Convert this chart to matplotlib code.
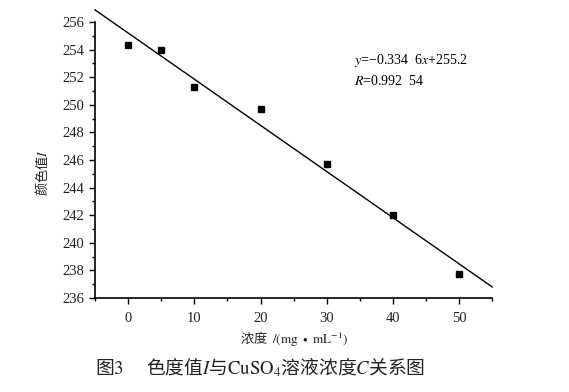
import matplotlib
matplotlib.use('Agg')
import matplotlib.pyplot as plt
from matplotlib.ticker import MultipleLocator
import numpy as np

##############################
# DATA
##############################
conc = [0, 5, 10, 20, 30, 40, 50]
colorVal = [254.3, 254.0, 251.3, 249.7, 245.7, 242.0, 237.7]
slope = -0.3346
intercept = 255.2
xTicks = [0, 10, 20, 30, 40, 50]
yTicks = [236, 238, 240, 242, 244, 246, 248, 250, 252, 254, 256]

serif = ['Liberation Serif', 'Noto Sans CJK SC']
cjk = ['Noto Sans CJK SC', 'Liberation Serif']

fig = plt.figure(figsize=(5.69, 3.92), dpi=100)
ax = fig.add_axes([0.167, 0.240, 0.698, 0.704])

# scatter points
ax.plot(conc, colorVal, 's', color='black', markersize=5, clip_on=False, zorder=3)

# fitted line, spans the full x range and runs past the top of the axis
xl = np.array([-5, 55])
ax.plot(xl, slope * xl + intercept, color='black', linewidth=1.0, clip_on=False)

ax.set_xlim(-5, 55)
ax.set_ylim(236, 256)
ax.set_xticks(xTicks)
ax.set_yticks(yTicks)
ax.xaxis.set_minor_locator(MultipleLocator(5))
ax.yaxis.set_minor_locator(MultipleLocator(1))
ax.tick_params(which='major', direction='out', length=4, width=1, labelsize=10.5)
ax.tick_params(which='minor', direction='out', length=2.5, width=1)
ax.tick_params(axis='x', pad=6)
for lbl in ax.get_xticklabels() + ax.get_yticklabels():
    lbl.set_family(serif)
    lbl.set_color('#222222')

ax.spines['top'].set_visible(False)
ax.spines['right'].set_visible(False)
ax.spines['left'].set_linewidth(1.2)
ax.spines['bottom'].set_linewidth(1.2)

# axis labels (mathtext only uses the first family, so CJK goes first)
ax.set_xlabel(r'浓度  $/(\mathrm{mg\ \bullet\ mL^{-1}})$', family=cjk, fontsize=9.5,
              labelpad=3, math_fontfamily='stix', color='#222222')
fig.text(0.074, 0.56, '颜色值$I$', rotation=90, family=cjk, fontsize=9.5,
         ha='center', va='center', math_fontfamily='stix', color='#222222')

# equation text
fig.text(0.622, 0.838, '$y$=−0.334  6$x$+255.2', family=serif, fontsize=10,
         math_fontfamily='stix')
fig.text(0.622, 0.783, '$R$=0.992  54', family=serif, fontsize=10,
         math_fontfamily='stix')

# caption
fig.text(0.167, 0.045, r'图$\mathrm{3}$　 色度值$I$与$\mathrm{CuSO_4}$溶液浓度$C$关系图',
         family=cjk, fontsize=13.5, math_fontfamily='stix', color='#222222')

plt.savefig('out.png', dpi=100)
plt.close()
